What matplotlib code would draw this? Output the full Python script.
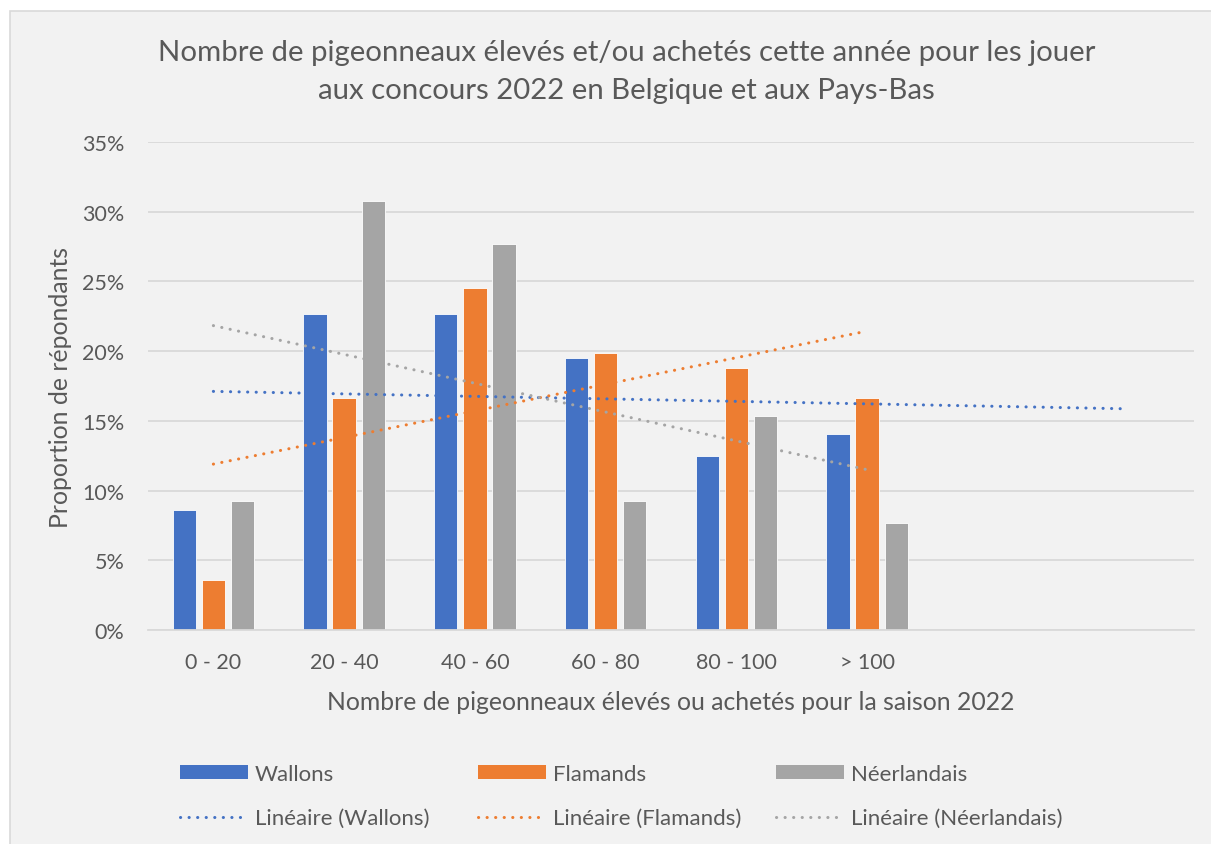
import numpy as np
import matplotlib
matplotlib.use("Agg")
import matplotlib.pyplot as plt
from matplotlib.patches import Rectangle, Patch
from matplotlib.lines import Line2D
from matplotlib.ticker import PercentFormatter, MultipleLocator

categories = ["0 - 20", "20 - 40", "40 - 60", "60 - 80", "80 - 100", "> 100", "", ""]
wallons = [8.59, 22.66, 22.66, 19.53, 12.50, 14.06]
flamands = [3.61, 16.61, 24.55, 19.86, 18.77, 16.61]
neerlandais = [9.23, 30.77, 27.69, 9.23, 15.38, 7.69]
series_names = ["Wallons", "Flamands", "Néerlandais"]
title = "Nombre de pigeonneaux élevés et/ou achetés cette année pour les jouer\naux concours 2022 en Belgique et aux Pays-Bas"
xlabel = "Nombre de pigeonneaux élevés ou achetés pour la saison 2022"
ylabel = "Proportion de répondants"
# trendline forward forecast (in categories) per series
forecast = [2, 0, 0]

colors = ["#4472C4", "#ED7D31", "#A5A5A5"]
text_color = "#595959"
grid_color = "#D9D9D9"
bg = "#F2F2F2"

plt.rcParams["font.family"] = ["Lato", "DejaVu Sans"]

W, H = 1211, 845
fig = plt.figure(figsize=(W / 100, H / 100), dpi=100, facecolor="white")
fig.patches.append(Rectangle((10 / W, -0.01), 1.02, 1 - 12 / H + 0.01, transform=fig.transFigure,
                             facecolor=bg, edgecolor=grid_color, linewidth=1.2, zorder=-10))

left, right, top, bottom = 148 / W, 1194 / W, 143 / H, 631 / H
ax = fig.add_axes([left, 1 - bottom, right - left, bottom - top])
ax.set_facecolor(bg)
ax.patch.set_alpha(0)

x = np.arange(len(categories))
n = len(wallons)
xs = np.arange(n)
bw = 0.178
off = 0.222
data = [wallons, flamands, neerlandais]
for i, (vals, c) in enumerate(zip(data, colors)):
    ax.bar(xs + (i - 1) * off, vals, width=bw, color=c, edgecolor="white", linewidth=0.6,
           zorder=2)

# linear trendlines (least squares, x = 1..n)
dot = (0, (0.05, 2.75))
for i, (vals, c) in enumerate(zip(data, colors)):
    k = np.arange(1, n + 1)
    p = np.polyfit(k, vals, 1)
    kk = np.array([1, n + forecast[i]])
    ax.plot(kk - 1, np.polyval(p, kk), color=c, linewidth=2.2,
            linestyle=dot, dash_capstyle="round", zorder=3)

ax.set_xlim(-0.5, len(categories) - 0.5)
ax.set_ylim(0, 35)
ax.yaxis.set_major_locator(MultipleLocator(5))
ax.yaxis.set_major_formatter(PercentFormatter(decimals=0))
ax.set_xticks(x)
ax.set_xticklabels(categories)
ax.grid(axis="y", color=grid_color, linewidth=1.3, zorder=0)
ax.set_axisbelow(True)
for s in ["top", "right", "left"]:
    ax.spines[s].set_visible(False)
ax.spines["bottom"].set_color(grid_color)
ax.spines["bottom"].set_linewidth(1.3)
ax.tick_params(axis="both", length=0, colors=text_color, labelsize=15.5)
ax.tick_params(axis="x", pad=16)
ax.tick_params(axis="y", pad=17)

ax.set_xlabel(xlabel, fontsize=17.8, color=text_color, labelpad=13)
ax.set_ylabel(ylabel, fontsize=17.8, color=text_color, labelpad=7)

fig.text(626.5 / W, 1 - 72 / H, title, ha="center", va="center", fontsize=21.2,
         color=text_color, linespacing=1.55)

# legend: three columns, bars on first row and trendlines on second
col_x = [180 / W, 478 / W, 776 / W]
for i, name in enumerate(series_names):
    handles = [Patch(facecolor=colors[i], edgecolor="none"),
               Line2D([], [], color=colors[i], linewidth=2.2, linestyle=dot,
                      dash_capstyle="round")]
    labels = [name, f"Linéaire ({name})"]
    leg = fig.legend(handles, labels, loc="upper left", bbox_to_anchor=(col_x[i], 1 - 765 / H),
                     frameon=False, fontsize=16, handlelength=3.06, handleheight=0.6,
                     handletextpad=0.3, labelspacing=1.08, borderpad=0, borderaxespad=0)
    for t in leg.get_texts():
        t.set_color(text_color)

fig.savefig("out.png", dpi=100, facecolor="white")
